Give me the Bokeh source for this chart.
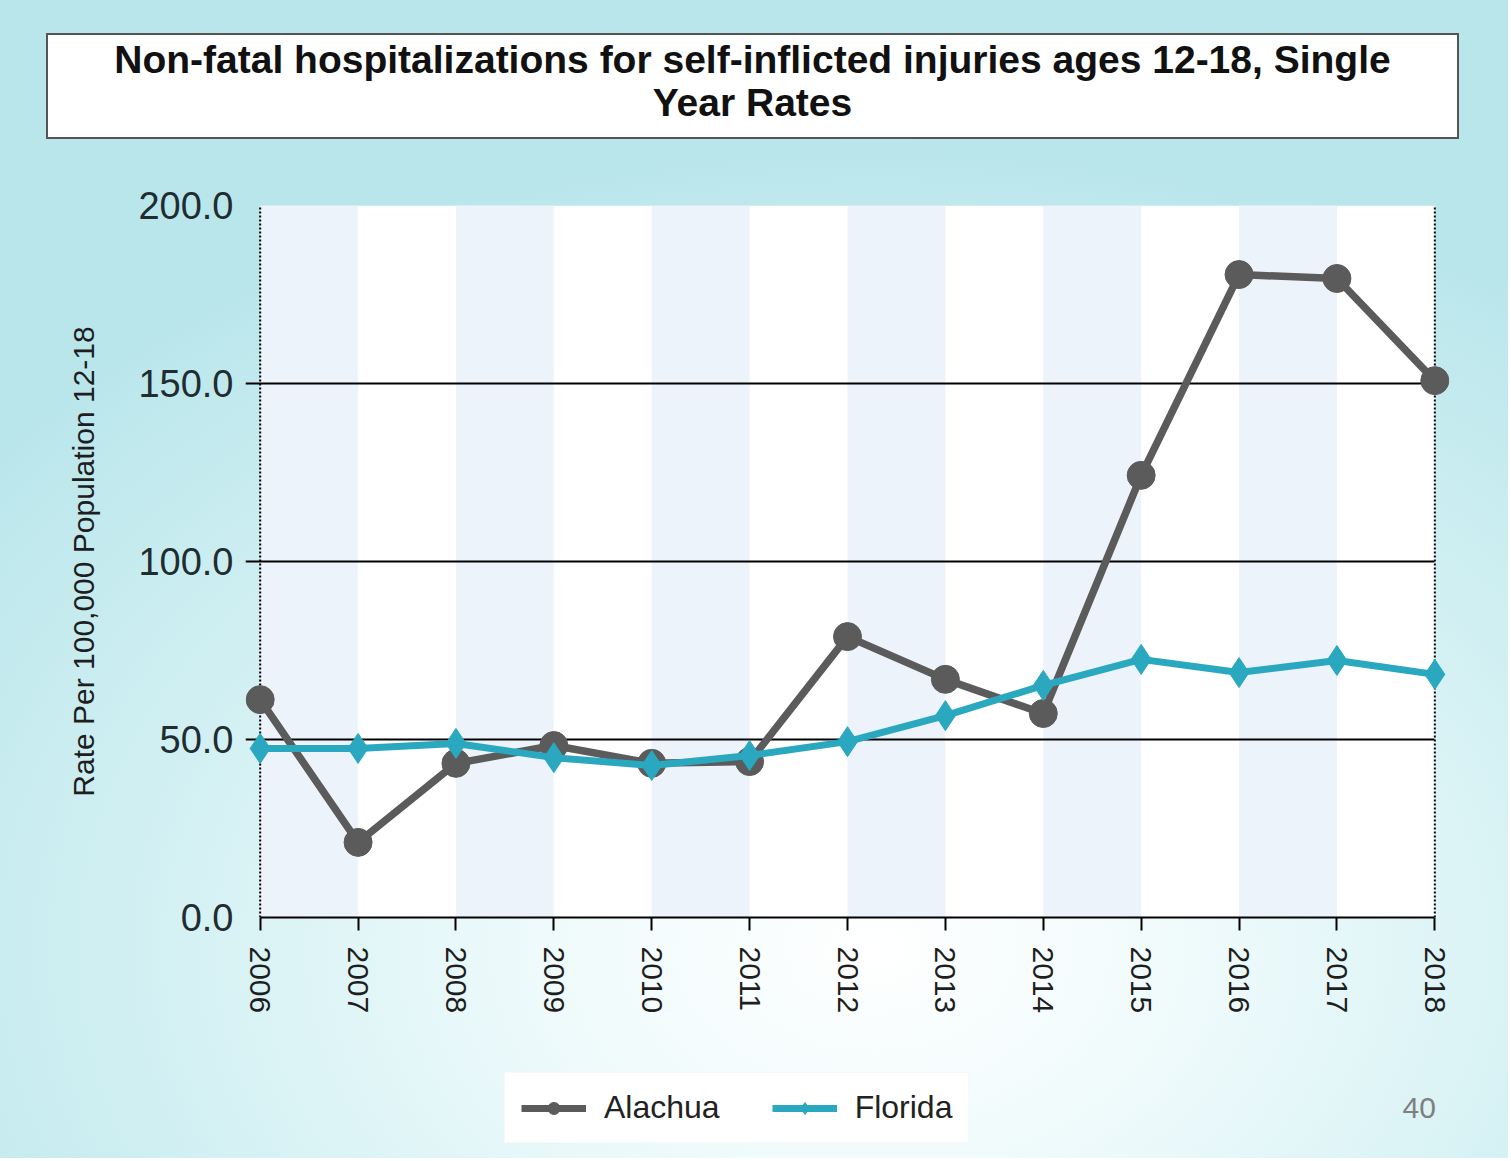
import math
from bokeh.plotting import figure
from bokeh.layouts import column
from bokeh.models import (Range1d, FixedTicker, PrintfTickFormatter, Legend, LegendItem,
                          ColumnDataSource, Div, Label)
from bokeh.embed import file_html
from bokeh.resources import INLINE

# ---- data ----
years = [2006, 2007, 2008, 2009, 2010, 2011, 2012, 2013, 2014, 2015, 2016, 2017, 2018]
alachua = [61.2, 21.1, 43.3, 48.3, 43.3, 43.8, 78.9, 66.9, 57.3, 124.2, 180.6, 179.5, 150.8]
florida = [47.5, 47.5, 48.9, 44.9, 42.7, 45.5, 49.4, 56.7, 65.2, 72.5, 68.8, 72.2, 68.3]
y_ticks = [0, 50, 100, 150, 200]
title_lines = ["Non-fatal hospitalizations for self-inflicted injuries ages 12-18, Single", "Year Rates"]
y_label = "Rate Per 100,000 Population 12-18"
series_names = ["Alachua", "Florida"]
page_number = "40"

FONT = "Liberation Sans"
GRAY = "#5b5b5b"
CYAN = "#2aa8c0"
W = 1508
FRAME_LEFT = 245
FRAME_W = 1204

title_div = Div(
    text=("<div style=\"margin-left:46px;margin-top:33px;width:1413px;height:106px;"
          "box-sizing:border-box;border:2px solid #555555;background:#ffffff;"
          "text-align:center;font-family:'Liberation Sans';font-weight:bold;font-size:39px;"
          "line-height:43px;padding-top:3px;color:#111111;\">"
          + "<br>".join(title_lines) + "</div>"),
    width=W, height=145, margin=0)

p = figure(width=W, height=882, output_backend="svg", toolbar_location=None,
           x_range=Range1d(years[0] - 0.15, years[-1] + 0.15),
           y_range=Range1d(y_ticks[0], y_ticks[-1]),
           min_border_left=FRAME_LEFT, min_border_right=W - FRAME_LEFT - FRAME_W, min_border_top=60,
           min_border_bottom=110, margin=0)

p.border_fill_color = None
p.background_fill_color = None
p.outline_line_color = None

# plot area (white) and alternating bands
p.quad(left=years[0], right=years[-1], bottom=y_ticks[0], top=y_ticks[-1],
       fill_color="white", line_color=None, level="image")
src_bands = ColumnDataSource(dict(left=years[0:-1:2], right=years[1::2]))
p.quad(left="left", right="right", bottom=y_ticks[0], top=y_ticks[-1], source=src_bands,
       fill_color="#edf3fb", line_color=None, level="image")

# grid
p.xgrid.visible = False
p.ygrid.ticker = FixedTicker(ticks=y_ticks)
p.ygrid.grid_line_color = "black"
p.ygrid.grid_line_width = 2
p.ygrid.cross_bounds = (years[0] - 0.15, years[-1])

# dotted verticals at ends
p.segment(x0=[years[0], years[-1]], x1=[years[0], years[-1]], y0=[y_ticks[0]] * 2, y1=[y_ticks[-1]] * 2,
          line_color="black", line_width=2, line_dash="2 2")

# axes
xa = p.xaxis[0]
xa.ticker = FixedTicker(ticks=years)
xa.bounds = (years[0], years[-1])
xa.axis_line_color = "black"
xa.axis_line_width = 2
xa.major_tick_in = 0
xa.major_tick_out = 13
xa.major_tick_line_width = 2
xa.minor_tick_line_color = None
xa.major_label_orientation = -math.pi / 2
xa.major_label_standoff = 16
xa.major_label_text_font = FONT
xa.major_label_text_font_size = "30px"
xa.major_label_text_color = "#1e1e1e"

ya = p.yaxis[0]
ya.ticker = FixedTicker(ticks=y_ticks)
ya.formatter = PrintfTickFormatter(format="%.1f")
ya.axis_line_color = None
ya.major_tick_line_color = None
ya.minor_tick_line_color = None
ya.major_label_standoff = 6
ya.major_label_text_font = FONT
ya.major_label_text_font_size = "38px"
ya.major_label_text_color = "#1f2d30"
ya.axis_label = y_label
ya.axis_label_text_font = FONT
ya.axis_label_text_font_size = "30px"
ya.axis_label_text_font_style = "normal"
ya.axis_label_text_color = "#1e1e1e"
ya.axis_label_standoff = 35

# series
p.line(years, alachua, line_color=GRAY, line_width=7.5)
p.scatter(years, alachua, marker="circle", size=28, fill_color=GRAY, line_color=GRAY)
p.line(years, florida, line_color=CYAN, line_width=7)
p.scatter(years, florida, marker="diamond", size=30, fill_color=CYAN, line_color=CYAN)

# ---- legend strip (its frame lines up with the chart frame; pixel-like ranges) ----
LH = 131
q = figure(width=W, height=LH, output_backend="svg", toolbar_location=None,
           x_range=Range1d(0, FRAME_W), y_range=Range1d(0, LH),
           x_axis_type=None, y_axis_type=None,
           min_border_left=FRAME_LEFT, min_border_right=W - FRAME_LEFT - FRAME_W,
           min_border_top=0, min_border_bottom=0, margin=0)
q.border_fill_color = None
q.background_fill_color = None
q.outline_line_color = None
q.grid.visible = False
# legend proxies: same series, lying outside the strip's visible range
k1 = q.line(years, alachua, line_color=GRAY, line_width=7)
m1 = q.scatter(years, alachua, marker="circle", fill_color=GRAY, line_color=GRAY)
k2 = q.line(years, florida, line_color=CYAN, line_width=7)
m2 = q.scatter(years, florida, marker="diamond", fill_color=CYAN, line_color=CYAN)
legend = Legend(items=[LegendItem(label=series_names[0], renderers=[k1, m1]),
                       LegendItem(label=series_names[1], renderers=[k2, m2])],
                location=(504 - FRAME_LEFT, 15), orientation="horizontal",
                glyph_width=65, glyph_height=30, label_standoff=18, spacing=52, padding=16,
                label_text_font=FONT, label_text_font_size="32px", label_text_color="#222222",
                background_fill_color="white", background_fill_alpha=1.0,
                border_line_color="#eef3f4", margin=0)
q.add_layout(legend)
q.add_layout(Label(x=1402 - FRAME_LEFT, y=41, text=page_number, text_font=FONT,
                   text_font_size="30px", text_color="#7f7f7f"))

layout = column(title_div, p, q, margin=0, spacing=0,
                styles={"background": "radial-gradient(ellipse 75% 70% at 58% 82%, #ffffff 0%, #eefafb 30%, #d2f0f3 65%, #b9e6eb 100%)"})

open("out.html", "w").write(file_html(layout, INLINE))
